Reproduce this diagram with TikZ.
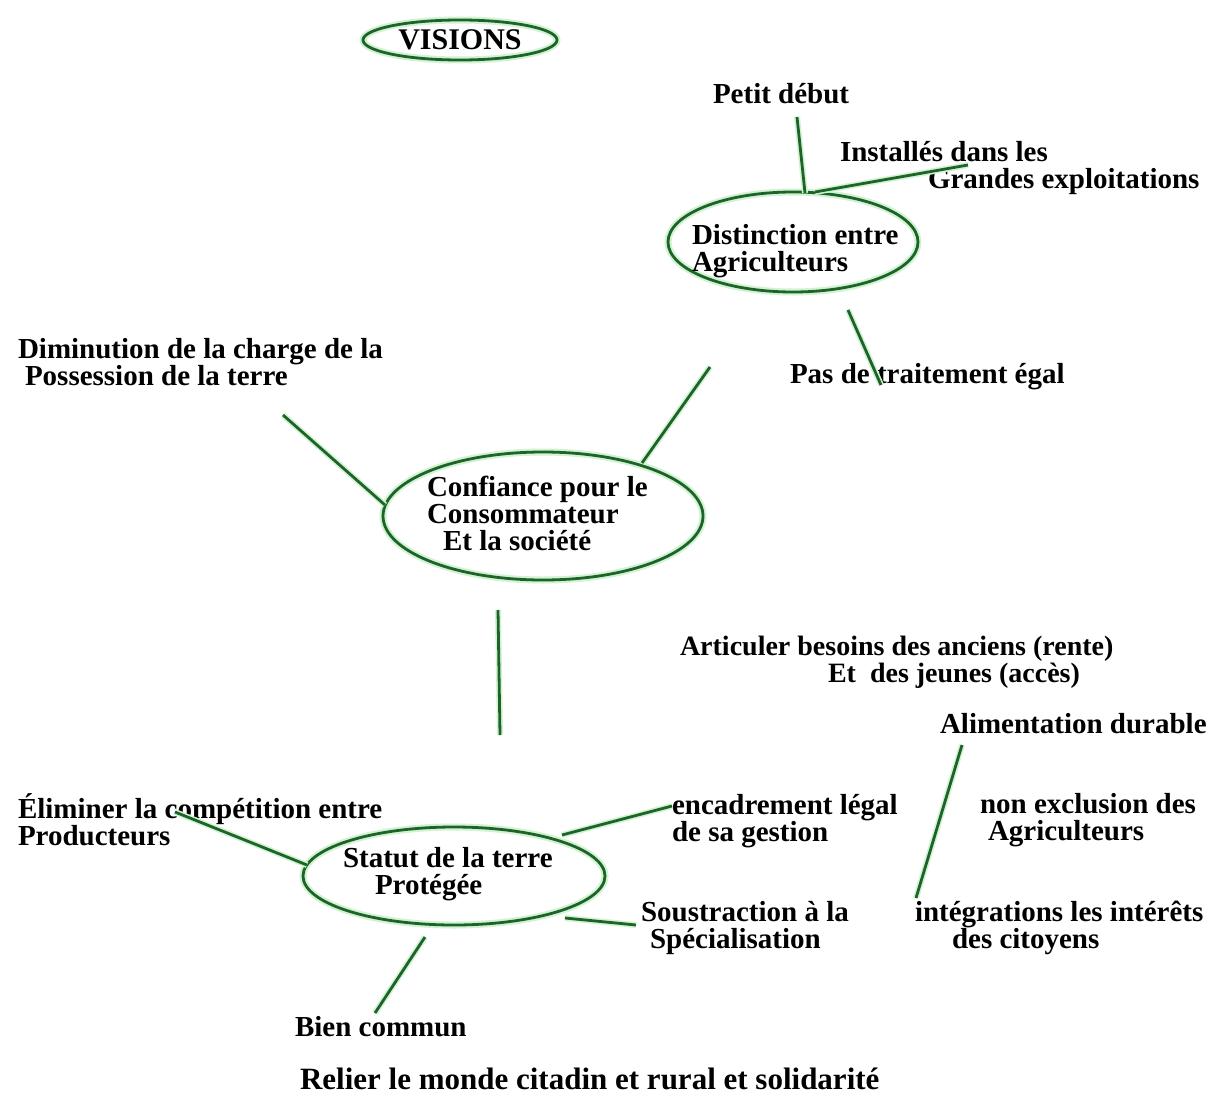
\documentclass[tikz,border=0pt]{standalone}
\usepackage{fontspec}
\setmainfont{Liberation Serif}
\usetikzlibrary{shapes.geometric,calc}
\definecolor{VisionGreen}{RGB}{28,100,42}
\definecolor{GlowGreen}{RGB}{210,242,210}

\begin{document}
\begin{tikzpicture}[x=1pt,y=-1pt,
    every node/.style={font=\fontsize{29}{27}\selectfont\bfseries,inner sep=0pt,outer sep=0pt},
    lbl/.style={anchor=base west,align=left},
    bubble/.style={ellipse,draw=VisionGreen,line width=2.8pt,preaction={draw=GlowGreen,line width=7pt}},
    link/.style={VisionGreen,line width=2.8pt,preaction={draw=GlowGreen,line width=6pt}}]
  \useasboundingbox[fill=white] (0,0) rectangle (1220,1097);

  % title
  \node[bubble,minimum width=194pt,minimum height=40pt,font=\fontsize{30}{27}\selectfont\bfseries] (visions) at (460,40) {VISIONS};

  % top right: distinction
  \node[lbl] (petit) at (713,104) {Petit début};
  \node[lbl] (installes) at (840,188) {Installés dans les\\\hspace*{88pt}Grandes exploitations};
  \node[bubble,minimum width=250pt,minimum height=100pt] (distinction) at (793,242) {};
  \node[lbl] (distinction-t) at (692,271) {Distinction entre\\Agriculteurs};
  \node[lbl] (traitement) at (790,383) {Pas de traitement égal};

  % middle: confiance
  \node[lbl] (diminution) at (18,385) {Diminution de la charge de la\\\hspace*{7pt}Possession de la terre};
  \node[bubble,minimum width=320pt,minimum height=128pt] (confiance) at (543,516) {};
  \node[lbl] (confiance-t) at (427,550) {Confiance pour le\\Consommateur\\\hspace*{16pt}Et la société};
  \coordinate (confiance-free) at (710,367);
  \coordinate (axis-top) at (498,610);
  \coordinate (axis-bottom) at (500,735);

  % right column
  \node[lbl,font=\fontsize{28}{27}\selectfont\bfseries] (articuler) at (680,682) {Articuler besoins des anciens (rente)\\\hspace*{148pt}Et\ \ des jeunes (accès)};
  \node[lbl] (alimentation) at (940,733) {Alimentation durable};
  \node[lbl] (exclusion) at (980,840) {non exclusion des\\\hspace*{8pt}Agriculteurs};
  \node[lbl] (integrations) at (915,948) {intégrations les intérêts\\\hspace*{37pt}des citoyens};

  % bottom: statut
  \node[lbl] (eliminer) at (18,845) {Éliminer la compétition entre\\Producteurs};
  \node[lbl] (encadrement) at (672,841) {encadrement légal\\de sa gestion};
  \node[bubble,minimum width=302pt,minimum height=98pt] (statut) at (454,876) {};
  \node[lbl] (statut-t) at (343,894) {Statut de la terre\\\hspace*{32pt}Protégée};
  \node[lbl] (soustraction) at (641,948) {Soustraction à la\\\hspace*{9pt}Spécialisation};
  \node[lbl] (bien) at (295,1036) {Bien commun};
  \node[lbl,font=\fontsize{31}{27}\selectfont\bfseries] (relier) at (300,1089) {Relier le monde citadin et rural et solidarité};

  % connectors
  \draw[link] ($(petit.base west)+(84,13)$) -- ($(distinction.center)+(12,-49)$);
  \draw[link] ($(distinction.center)+(22,-50)$) -- ($(installes.base west)+(128,-23)$);
  \draw[link] ($(distinction.center)+(55,68)$) -- ($(traitement.base west)+(91,2)$);
  \draw[link] ($(confiance.center)+(99,-53)$) -- (confiance-free);
  \draw[link] ($(diminution.base west)+(265,30)$) -- ($(confiance.center)+(-158,-11)$);
  \draw[link] (axis-top) -- (axis-bottom);
  \draw[link] ($(alimentation.base west)+(22,12)$) -- ($(integrations.base west)+(1,-50)$);
  \draw[link] ($(eliminer.base west)+(157,-33)$) -- ($(statut.center)+(-147,-11)$);
  \draw[link] ($(statut.center)+(108,-41)$) -- ($(encadrement.base west)+(0,-35)$);
  \draw[link] ($(statut.center)+(111,42)$) -- ($(soustraction.base west)+(-5,-23)$);
  \draw[link] ($(statut.center)+(-29,61)$) -- ($(bien.base west)+(80,-23)$);
\end{tikzpicture}
\end{document}
